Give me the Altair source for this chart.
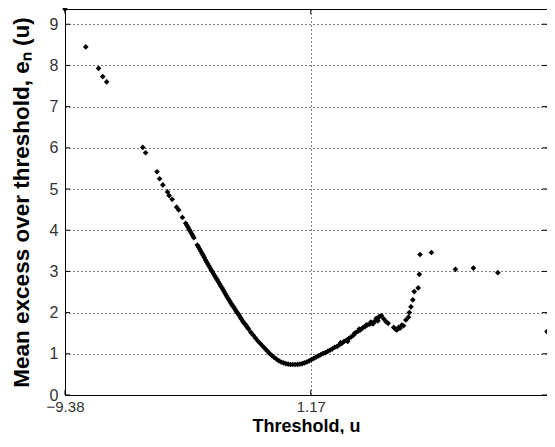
import altair as alt
import pandas as pd

# ---- data ----
threshold = [
    -9.38, -8.49, -7.94, -7.76, -7.59,
    -6.04, -5.92, -5.43, -5.32, -5.18, -4.98, -4.91, -4.78, -4.59, -4.50, -4.34,
    -4.20, -4.15, -4.10, -4.05, -4.00, -3.95, -3.90, -3.85,
    -3.70, -3.65, -3.60, -3.55, -3.50, -3.45, -3.40, -3.35, -3.30, -3.25,
    -3.20, -3.15, -3.10, -3.05, -3.00, -2.95, -2.90, -2.85, -2.80, -2.75,
    -2.70, -2.65, -2.60, -2.55, -2.50, -2.45, -2.40, -2.35, -2.30, -2.25,
    -2.20, -2.15, -2.10, -2.05, -2.00, -1.95, -1.90, -1.85, -1.80, -1.75,
    -1.70, -1.65, -1.60, -1.55, -1.50,
    -1.40, -1.30, -1.20, -1.10, -1.00, -0.90, -0.80, -0.70, -0.60, -0.50,
    -0.40, -0.30, -0.20, -0.10, 0.00, 0.10, 0.20, 0.30, 0.40, 0.50,
    0.60, 0.70, 0.80, 0.90, 1.00, 1.10, 1.20, 1.30, 1.40, 1.50,
    1.60, 1.70, 1.80, 1.90, 2.00, 2.10, 2.20, 2.30, 2.40, 2.50,
    2.60, 2.70, 2.80, 2.90, 3.00, 3.10, 3.20, 3.30, 3.40, 3.50,
    3.60, 3.70, 3.80, 3.90, 4.00, 4.10,
    2.45, 2.75, 3.05, 3.25, 3.55, 3.75, 3.85, 3.98, 4.05,
    4.12, 4.20, 4.30, 4.40, 4.49, 4.73, 4.80, 4.87, 4.94, 5.00,
    5.08, 5.15, 5.25, 5.36, 5.40, 5.47, 5.55, 5.61, 5.78, 5.83,
    5.86, 6.35, 7.38, 8.15, 9.20, 11.31,
]
mean_excess = [
    9.37, 8.45, 7.93, 7.73, 7.60,
    6.01, 5.88, 5.42, 5.25, 5.10, 4.93, 4.84, 4.75, 4.56, 4.49, 4.31,
    4.17, 4.12, 4.07, 4.02, 3.97, 3.92, 3.87, 3.82,
    3.64, 3.59, 3.54, 3.49, 3.44, 3.39, 3.34, 3.28, 3.23, 3.18,
    3.13, 3.08, 3.03, 2.99, 2.94, 2.89, 2.84, 2.80, 2.75, 2.70,
    2.65, 2.61, 2.56, 2.51, 2.46, 2.41, 2.36, 2.32, 2.27, 2.22,
    2.18, 2.14, 2.10, 2.05, 2.01, 1.97, 1.93, 1.88, 1.84, 1.79,
    1.75, 1.72, 1.68, 1.64, 1.60,
    1.52, 1.45, 1.38, 1.31, 1.25, 1.19, 1.13, 1.07, 1.01, 0.96,
    0.91, 0.87, 0.83, 0.80, 0.78, 0.76, 0.75, 0.74, 0.74, 0.74,
    0.74, 0.75, 0.76, 0.78, 0.80, 0.83, 0.86, 0.89, 0.92, 0.95,
    0.98, 1.01, 1.03, 1.06, 1.09, 1.12, 1.16, 1.18, 1.22, 1.25,
    1.30, 1.33, 1.37, 1.41, 1.45, 1.51, 1.55, 1.58, 1.63, 1.66,
    1.70, 1.72, 1.74, 1.78, 1.82, 1.90,
    1.27, 1.30, 1.50, 1.60, 1.70, 1.77, 1.73, 1.86, 1.80,
    1.90, 1.93, 1.85, 1.78, 1.74, 1.64, 1.60, 1.58, 1.64, 1.62,
    1.70, 1.68, 1.82, 1.89, 2.00, 2.14, 2.31, 2.51, 2.60, 2.93,
    3.41, 3.46, 3.05, 3.08, 2.97, 1.54,
]
x_ticks = [-9.38, 1.17]
y_ticks = [0, 1, 2, 3, 4, 5, 6, 7, 8, 9]

W, H = 482, 386
TICK = 5

df = pd.DataFrame({"u": threshold, "e": mean_excess})
xt = pd.DataFrame({"u": x_ticks})
yt = pd.DataFrame({"e": y_ticks})

xscale = alt.Scale(domain=[-9.38, 11.31], nice=False, zero=False)
yscale = alt.Scale(domain=[0, 9.37], nice=False, zero=False)

font = "Liberation Sans"

xaxis = alt.Axis(
    values=x_ticks, format=".2f", title="Threshold, u",
    grid=True, gridDash=[1, 3], gridColor="#000", gridOpacity=1,
    ticks=False, domain=False, labelFlush=False,
    labelPadding=4, labelFontSize=15, labelColor="#333", labelFont=font,
    titleFont=font, titleFontSize=18, titleFontWeight="bold", titleColor="#000",
    titleBaseline="top", titleY=22,
)
yaxis = alt.Axis(
    values=y_ticks, title="Mean excess over threshold, eₙ (u)",
    grid=True, gridDash=[1, 3], gridColor="#000", gridOpacity=1,
    ticks=False, domain=False,
    labelPadding=7, labelFontSize=16, labelColor="#333", labelFont=font,
    titleFont=font, titleFontSize=22.5, titleFontWeight="bold", titleColor="#000",
    titlePadding=16,
)

xenc = alt.X("u:Q", scale=xscale, axis=xaxis)
yenc = alt.Y("e:Q", scale=yscale, axis=yaxis)

points = alt.Chart(df).mark_point(
    shape="diamond", filled=True, color="#000", size=32, opacity=1, clip=False
).encode(x=xenc, y=yenc)

rule_style = dict(color="#000", strokeWidth=1)
ytick_left = alt.Chart(yt).mark_rule(**rule_style).encode(
    y=yenc, x=alt.value(0), x2=alt.value(TICK),
)
ytick_right = alt.Chart(yt).mark_rule(**rule_style).encode(
    y=yenc, x=alt.value(W - TICK), x2=alt.value(W),
)
xtick_bottom = alt.Chart(xt).mark_rule(**rule_style).encode(
    x=xenc, y=alt.value(H - TICK), y2=alt.value(H),
)
xtick_top = alt.Chart(xt).mark_rule(**rule_style).encode(
    x=xenc, y=alt.value(0), y2=alt.value(TICK),
)

chart = alt.layer(points, ytick_left, ytick_right, xtick_bottom, xtick_top).properties(
    width=W, height=H,
    autosize=alt.AutoSizeParams(type="none"),
    padding={"left": 57, "top": 1, "right": 0, "bottom": 39},
    background="white",
).configure_view(stroke="#000", strokeWidth=1)

chart.save("out.html", embed_options={"renderer": "svg", "actions": False})
